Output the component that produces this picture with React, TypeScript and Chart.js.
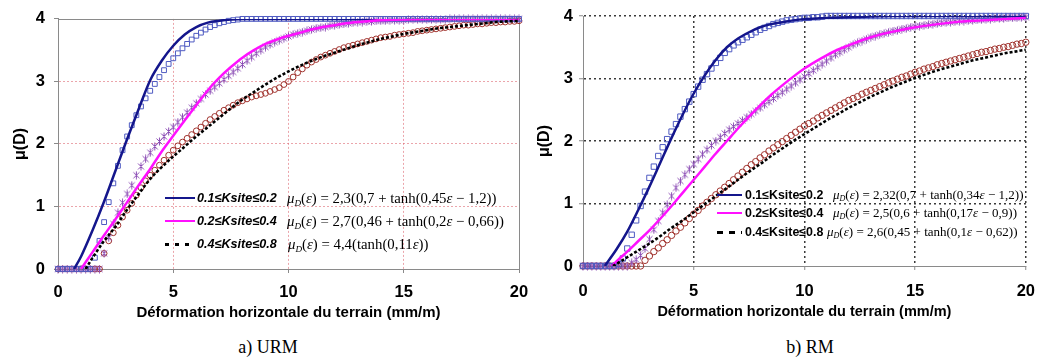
import React, { useEffect, useRef } from 'react';
import { Chart, registerables } from 'chart.js';

Chart.register(...registerables);

// ---------- DATA ----------
// common abscissa of the measured markers (mm/m)
const MARK_X = [
  0, 0.2, 0.4, 0.6, 0.8, 1, 1.2, 1.4, 1.6, 1.8,
  2, 2.2, 2.4, 2.6, 2.8, 3, 3.2, 3.4, 3.6, 3.8,
  4, 4.2, 4.4, 4.6, 4.8, 5, 5.2, 5.4, 5.6, 5.8,
  6, 6.2, 6.4, 6.6, 6.8, 7, 7.2, 7.4, 7.6, 7.8,
  8, 8.2, 8.4, 8.6, 8.8, 9, 9.2, 9.4, 9.6, 9.8,
  10, 10.2, 10.4, 10.6, 10.8, 11, 11.2, 11.4, 11.6, 11.8,
  12, 12.2, 12.4, 12.6, 12.8, 13, 13.2, 13.4, 13.6, 13.8,
  14, 14.2, 14.4, 14.6, 14.8, 15, 15.2, 15.4, 15.6, 15.8,
  16, 16.2, 16.4, 16.6, 16.8, 17, 17.2, 17.4, 17.6, 17.8,
  18, 18.2, 18.4, 18.6, 18.8, 19, 19.2, 19.4, 19.6, 19.8,
  20,
];

// a) URM — markers
const URM_SQ = [
  0, 0, 0, 0, 0, 0, 0, 0, 0.18, 0.45,
  0.75, 1.07, 1.37, 1.65, 1.9, 2.12, 2.3, 2.46, 2.6, 2.73,
  2.85, 2.96, 3.07, 3.18, 3.28, 3.37, 3.45, 3.53, 3.6, 3.67,
  3.73, 3.78, 3.83, 3.87, 3.9, 3.93, 3.95, 3.97, 3.98, 3.99,
  4, 4, 4, 4, 4, 4, 4, 4, 4, 4,
  4, 4, 4, 4, 4, 4, 4, 4, 4, 4,
  4, 4, 4, 4, 4, 4, 4, 4, 4, 4,
  4, 4, 4, 4, 4, 4, 4, 4, 4, 4,
  4, 4, 4, 4, 4, 4, 4, 4, 4, 4,
  4, 4, 4, 4, 4, 4, 4, 4, 4, 4,
  4,
];
const URM_AST = [
  0, 0, 0, 0, 0, 0, 0, 0, 0, 0,
  0.25, 0.5, 0.72, 0.9, 1.06, 1.2, 1.34, 1.5, 1.64, 1.76,
  1.86, 1.96, 2.04, 2.12, 2.2, 2.27, 2.35, 2.43, 2.5, 2.58,
  2.65, 2.72, 2.79, 2.85, 2.91, 2.97, 3.03, 3.09, 3.15, 3.21,
  3.27, 3.33, 3.39, 3.45, 3.5, 3.55, 3.59, 3.63, 3.66, 3.69,
  3.72, 3.75, 3.77, 3.79, 3.81, 3.83, 3.85, 3.86, 3.87, 3.89,
  3.9, 3.91, 3.92, 3.93, 3.94, 3.95, 3.95, 3.96, 3.96, 3.97,
  3.97, 3.97, 3.98, 3.98, 3.98, 3.98, 3.99, 3.99, 3.99, 3.99,
  3.99, 3.99, 3.99, 3.99, 3.99, 4, 4, 4, 4, 4,
  4, 4, 4, 4, 4, 4, 4, 4, 4, 4,
  4,
];
const URM_CIR = [
  0, 0, 0, 0, 0, 0, 0, 0, 0, 0,
  0.25, 0.45, 0.58, 0.7, 0.83, 0.94, 1.05, 1.18, 1.3, 1.41,
  1.5, 1.58, 1.66, 1.74, 1.82, 1.9, 1.97, 2.03, 2.09, 2.15,
  2.21, 2.27, 2.33, 2.39, 2.44, 2.49, 2.54, 2.58, 2.62, 2.66,
  2.69, 2.72, 2.75, 2.77, 2.79, 2.81, 2.84, 2.87, 2.9, 2.95,
  3, 3.07, 3.14, 3.2, 3.26, 3.31, 3.35, 3.39, 3.42, 3.45,
  3.48, 3.51, 3.54, 3.56, 3.58, 3.6, 3.62, 3.64, 3.66, 3.68,
  3.7, 3.71, 3.72, 3.74, 3.75, 3.76, 3.77, 3.78, 3.8, 3.81,
  3.82, 3.83, 3.84, 3.85, 3.86, 3.87, 3.88, 3.89, 3.9, 3.9,
  3.91, 3.92, 3.92, 3.93, 3.94, 3.94, 3.95, 3.95, 3.96, 3.96,
  3.97,
];

// a) URM — fitted curves
const URM_BLUE_X = [0.7, 1, 1.5, 2, 2.5, 3, 3.5, 4, 4.5, 5, 5.5, 6, 6.5, 7, 7.5, 8, 9, 10, 12, 14, 16, 18, 20];
const URM_BLUE_Y = [0, 0.2, 0.62, 1.08, 1.58, 2.08, 2.56, 3.02, 3.33, 3.57, 3.75, 3.87, 3.94, 3.97, 3.99, 4, 4, 4, 4, 4, 4, 4, 4];
const URM_MAG_X = [1, 1.5, 2, 2.5, 3, 3.5, 4, 4.5, 5, 5.5, 6, 6.5, 7, 7.5, 8, 8.5, 9, 9.5, 10, 10.5, 11, 11.5, 12, 12.5, 13, 14, 15, 16, 18, 20];
const URM_MAG_Y = [0, 0.27, 0.54, 0.8, 1.07, 1.34, 1.6, 1.88, 2.13, 2.38, 2.62, 2.86, 3.06, 3.23, 3.38, 3.5, 3.6, 3.67, 3.73, 3.78, 3.83, 3.87, 3.9, 3.93, 3.95, 3.98, 3.99, 4, 4, 4];
const URM_BLK_X = [1.2, 1.5, 2, 2.5, 3, 3.5, 4, 4.5, 5, 5.5, 6, 6.5, 7, 7.5, 8, 8.5, 9, 9.5, 10, 10.5, 11, 11.5, 12, 12.5, 13, 13.5, 14, 14.5, 15, 15.5, 16, 16.5, 17, 17.5, 18, 18.5, 19, 19.5, 20];
const URM_BLK_Y = [0, 0.18, 0.45, 0.68, 0.95, 1.2, 1.44, 1.63, 1.8, 1.96, 2.12, 2.27, 2.42, 2.57, 2.71, 2.83, 2.95, 3.06, 3.16, 3.25, 3.33, 3.4, 3.46, 3.52, 3.58, 3.63, 3.68, 3.72, 3.76, 3.79, 3.82, 3.85, 3.87, 3.89, 3.91, 3.93, 3.95, 3.96, 3.97];

// b) RM — markers
const RM_SQ = [
  0, 0, 0, 0, 0, 0, 0, 0, 0.03, 0.12,
  0.28, 0.5, 0.73, 0.96, 1.19, 1.41, 1.59, 1.76, 1.9, 2.03,
  2.15, 2.27, 2.39, 2.51, 2.63, 2.75, 2.87, 2.98, 3.07, 3.16,
  3.25, 3.33, 3.41, 3.47, 3.53, 3.58, 3.62, 3.66, 3.7, 3.74,
  3.78, 3.81, 3.84, 3.87, 3.89, 3.91, 3.93, 3.94, 3.95, 3.96,
  3.97, 3.97, 3.98, 3.98, 3.99, 4, 4, 4, 4, 4,
  4, 4, 4, 4, 4, 4, 4, 4, 4, 4,
  4, 4, 4, 4, 4, 4, 4, 4, 4, 4,
  4, 4, 4, 4, 4, 4, 4, 4, 4, 4,
  4, 4, 4, 4, 4, 4, 4, 4, 4, 4,
  4,
];
const RM_AST = [
  0, 0, 0, 0, 0, 0, 0, 0, 0, 0,
  0, 0.05, 0.1, 0.17, 0.28, 0.43, 0.58, 0.72, 0.85, 0.98,
  1.12, 1.25, 1.36, 1.46, 1.55, 1.63, 1.71, 1.79, 1.86, 1.93,
  2, 2.06, 2.12, 2.18, 2.23, 2.28, 2.33, 2.38, 2.43, 2.48,
  2.53, 2.58, 2.63, 2.68, 2.73, 2.78, 2.83, 2.88, 2.93, 2.98,
  3.03, 3.08, 3.13, 3.18, 3.23, 3.28, 3.33, 3.38, 3.42, 3.46,
  3.5, 3.54, 3.57, 3.6, 3.63, 3.66, 3.68, 3.7, 3.72, 3.74,
  3.76, 3.77, 3.79, 3.8, 3.82, 3.83, 3.84, 3.85, 3.86, 3.87,
  3.88, 3.89, 3.9, 3.9, 3.91, 3.92, 3.92, 3.93, 3.93, 3.94,
  3.94, 3.95, 3.95, 3.96, 3.96, 3.96, 3.97, 3.97, 3.97, 3.98,
  3.98,
];
const RM_CIR = [
  0, 0, 0, 0, 0, 0, 0, 0, 0, 0,
  0, 0, 0, 0, 0.09, 0.16, 0.23, 0.29, 0.36, 0.42,
  0.49, 0.56, 0.62, 0.69, 0.76, 0.83, 0.89, 0.96, 1.02, 1.08,
  1.14, 1.2, 1.26, 1.32, 1.38, 1.44, 1.5, 1.56, 1.62, 1.67,
  1.73, 1.78, 1.84, 1.89, 1.94, 1.99, 2.04, 2.09, 2.14, 2.19,
  2.24, 2.28, 2.32, 2.37, 2.41, 2.45, 2.49, 2.53, 2.57, 2.61,
  2.65, 2.68, 2.71, 2.75, 2.78, 2.81, 2.84, 2.87, 2.9, 2.93,
  2.96, 2.99, 3.02, 3.04, 3.07, 3.1, 3.12, 3.15, 3.17, 3.19,
  3.22, 3.24, 3.26, 3.28, 3.3, 3.32, 3.34, 3.36, 3.38, 3.4,
  3.42, 3.43, 3.45, 3.47, 3.48, 3.5, 3.51, 3.53, 3.55, 3.56,
  3.58,
];

// b) RM — fitted curves
const RM_BLUE_X = [0.98, 1.5, 2, 2.5, 3, 3.5, 4, 4.5, 5, 5.5, 6, 6.5, 7, 7.5, 8, 8.5, 9, 9.5, 10, 10.5, 11, 12, 13, 14, 16, 18, 20];
const RM_BLUE_Y = [0, 0.26, 0.55, 0.9, 1.27, 1.66, 2.05, 2.42, 2.76, 3.05, 3.3, 3.5, 3.64, 3.74, 3.82, 3.87, 3.9, 3.93, 3.95, 3.96, 3.97, 3.98, 3.99, 4, 4, 4, 4];
const RM_MAG_X = [1.3, 1.5, 2, 2.5, 3, 3.5, 4, 4.5, 5, 5.5, 6, 6.5, 7, 7.5, 8, 8.5, 9, 9.5, 10, 10.5, 11, 11.5, 12, 12.5, 13, 13.5, 14, 15, 16, 17, 18, 19, 20];
const RM_MAG_Y = [0, 0.07, 0.23, 0.4, 0.57, 0.76, 0.96, 1.17, 1.38, 1.59, 1.8, 2.0, 2.2, 2.39, 2.57, 2.74, 2.89, 3.03, 3.16, 3.27, 3.37, 3.46, 3.53, 3.6, 3.66, 3.71, 3.75, 3.82, 3.87, 3.91, 3.93, 3.95, 3.97];
const RM_BLK_X = [1.35, 1.5, 2, 2.5, 3, 3.5, 4, 4.5, 5, 5.5, 6, 6.5, 7, 7.5, 8, 8.5, 9, 9.5, 10, 10.5, 11, 11.5, 12, 12.5, 13, 13.5, 14, 14.5, 15, 15.5, 16, 16.5, 17, 17.5, 18, 18.5, 19, 19.5, 20];
const RM_BLK_Y = [0, 0.03, 0.14, 0.25, 0.36, 0.48, 0.61, 0.73, 0.86, 0.99, 1.12, 1.25, 1.38, 1.51, 1.63, 1.76, 1.88, 2.0, 2.11, 2.22, 2.33, 2.43, 2.53, 2.62, 2.71, 2.79, 2.87, 2.94, 3.01, 3.07, 3.13, 3.18, 3.23, 3.28, 3.32, 3.36, 3.4, 3.43, 3.46];

// texts
const X_TITLE = 'Déformation horizontale du terrain (mm/m)';
const Y_TITLE = 'μ(D)';
const LEGEND_LABELS = ['0.1≤Ksite≤0.2', '0.2≤Ksite≤0.4', '0.4≤Ksite≤0.8'];
const URM_FORMULAS = ['2,3(0,7 + tanh(0,45ε − 1,2))', '2,7(0,46 + tanh(0,2ε − 0,66))', '4,4(tanh(0,11ε))'];
const RM_FORMULAS = ['2,32(0,7 + tanh(0,34ε − 1,2))', '2,5(0,6 + tanh(0,17ε − 0,9))', '2,6(0,45 + tanh(0,1ε − 0,62))'];
const CAPTIONS = ['a) URM', 'b) RM'];

// ---------- STYLE ----------
const NAVY = '#14168c';
const MAGENTA = '#ff10ff';
const BLACK = '#000000';
const SQ_COLOR = '#4f5bc2';
const AST_COLOR = '#8c4db5';
const CIR_COLOR = '#a0332e';
const AXIS = '#8a8a8a';
const SANS = "'Liberation Sans', Arial, sans-serif";
const SERIF = "'Liberation Serif', 'Times New Roman', serif";

type Area = { left: number; top: number; right: number; bottom: number };
type Panel = {
  width: number; height: number; area: Area;
  gridColor: string; gridDash: number[]; gridWidth: number; frame: boolean;
  xLabelPad: number; yLabelPad: number; yTitlePad: number;
  xTitleSize: number; xTitlePadBottom: number; markR: number; circR: number;
};

const LEFT_PANEL: Panel = {
  width: 540, height: 322, area: { left: 58, top: 18, right: 519, bottom: 269 },
  gridColor: 'rgba(222,105,115,0.6)', gridDash: [2, 2], gridWidth: 1, frame: true,
  xLabelPad: 10, yLabelPad: 9, yTitlePad: 11.4, xTitleSize: 15, xTitlePadBottom: 0, markR: 3.4, circR: 2.9,
};
const RIGHT_PANEL: Panel = {
  width: 527, height: 322, area: { left: 63, top: 16, right: 512, bottom: 266 },
  gridColor: '#3a3a3a', gridDash: [2, 3], gridWidth: 1.5, frame: false,
  xLabelPad: 12, yLabelPad: 6, yTitlePad: 15.4, xTitleSize: 14.5, xTitlePadBottom: 1.3, markR: 3.8, circR: 3.2,
};

function makeStar(color: string) {
  const c = document.createElement('canvas');
  c.width = 9; c.height = 9;
  const g = c.getContext('2d')!;
  g.strokeStyle = color; g.lineWidth = 1;
  g.beginPath();
  g.moveTo(1.5, 1.5); g.lineTo(7.5, 7.5);
  g.moveTo(7.5, 1.5); g.lineTo(1.5, 7.5);
  g.moveTo(4.5, 0.5); g.lineTo(4.5, 8.5);
  g.stroke();
  return c;
}

const pts = (xs: number[], ys: number[]) => xs.map((x, i) => ({ x, y: ys[i] }));

function markSet(ys: number[], style: any, color: string, r: number) {
  return {
    data: pts(MARK_X, ys), showLine: false, pointStyle: style, pointRadius: r, pointHoverRadius: r,
    pointBorderColor: color, pointBackgroundColor: 'rgba(0,0,0,0)', pointBorderWidth: 1, order: 2, clip: false,
  };
}
function lineSet(xs: number[], ys: number[], color: string, dash: number[], w: number) {
  return {
    data: pts(xs, ys), showLine: true, borderColor: color, borderWidth: w, borderDash: dash,
    pointRadius: 0, pointHoverRadius: 0, cubicInterpolationMode: 'monotone', fill: false, order: 1,
  };
}

const framePlugin = {
  id: 'frame',
  beforeDatasetsDraw(chart: any) {
    const { ctx, chartArea: a } = chart;
    ctx.save();
    ctx.strokeStyle = AXIS; ctx.lineWidth = 1;
    ctx.beginPath();
    ctx.moveTo(a.left, Math.round(a.top) + 0.5);
    ctx.lineTo(Math.round(a.right) + 0.5, Math.round(a.top) + 0.5);
    ctx.lineTo(Math.round(a.right) + 0.5, a.bottom);
    ctx.stroke();
    ctx.restore();
  },
};

function makeChart(canvas: HTMLCanvasElement, p: Panel, datasets: any[]) {
  const tickFont = { family: SANS, size: 16.5, weight: 'bold' as const };
  const gridCol = (max: number) => (c: any) => {
    const v = c.tick ? c.tick.value : null;
    if (v === 0) return 'rgba(0,0,0,0)';
    if (p.frame && v === max) return 'rgba(0,0,0,0)';
    return p.gridColor;
  };
  return new Chart(canvas, {
    type: 'scatter',
    data: { datasets },
    options: {
      animation: false,
      responsive: false,
      events: [],
      layout: { padding: { left: 0, top: p.area.top, right: p.width - p.area.right, bottom: 0 } },
      plugins: { legend: { display: false }, tooltip: { enabled: false } },
      scales: {
        x: {
          type: 'linear', min: 0, max: 20,
          ticks: { stepSize: 5, padding: p.xLabelPad, font: tickFont, color: '#000', maxRotation: 0, autoSkip: false },
          grid: { color: gridCol(20), lineWidth: p.gridWidth, tickColor: AXIS, tickLength: 4, tickWidth: 1, tickBorderDash: [] },
          border: { display: true, color: AXIS, width: 1, dash: p.gridDash },
          title: {
            display: true, text: X_TITLE, color: '#000',
            font: { family: SANS, size: p.xTitleSize, weight: 'bold' },
            padding: { top: 0, bottom: p.xTitlePadBottom },
          },
          afterFit: (s: any) => { s.height = p.height - p.area.bottom; },
        },
        y: {
          type: 'linear', min: 0, max: 4,
          ticks: { stepSize: 1, padding: p.yLabelPad, font: tickFont, color: '#000' },
          grid: { color: gridCol(4), lineWidth: p.gridWidth, tickColor: AXIS, tickLength: 4, tickWidth: 1, tickBorderDash: [] },
          border: { display: true, color: AXIS, width: 1, dash: p.gridDash },
          title: {
            display: true, text: Y_TITLE, color: '#000',
            font: { family: SANS, size: 16, weight: 'bold' },
            padding: { top: p.yTitlePad, bottom: 0 },
          },
          afterFit: (s: any) => { s.width = p.area.left; },
        },
      },
    } as any,
    plugins: p.frame ? [framePlugin] : [],
  });
}

function Formula({ rhs }: { rhs: string }) {
  const parts = rhs.split('ε');
  return (
    <>
      <i>μ</i>
      <sub style={{ fontSize: '0.62em', fontStyle: 'italic', verticalAlign: '-0.3em', lineHeight: 0 }}>D</sub>
      (<i>ε</i>) = {parts.map((s, i) => (
        <React.Fragment key={i}>{s}{i < parts.length - 1 ? <i>ε</i> : null}</React.Fragment>
      ))}
    </>
  );
}

type LegendSpec = {
  rows: number[]; sampleLeft: number; sampleWidth: number; labelLeft: number;
  formulaLeft: number[]; labelItalic: boolean; labelSize: number; formulaSize: number;
  formulas: string[]; dash: string;
};

const LEFT_LEGEND: LegendSpec = {
  rows: [198, 221, 244], sampleLeft: 165, sampleWidth: 30, labelLeft: 197,
  formulaLeft: [287, 287, 288], labelItalic: true, labelSize: 12.6, formulaSize: 14.8,
  formulas: URM_FORMULAS, dash: 'repeating-linear-gradient(to right, #000 0 4px, rgba(0,0,0,0) 4px 10px)',
};
const RIGHT_LEGEND: LegendSpec = {
  rows: [195, 213, 232], sampleLeft: 717, sampleWidth: 25, labelLeft: 745,
  formulaLeft: [833, 833, 827], labelItalic: false, labelSize: 12.4, formulaSize: 13,
  formulas: RM_FORMULAS, dash: 'repeating-linear-gradient(to right, #000 0 6px, rgba(0,0,0,0) 6px 12px)',
};

function Legend({ spec }: { spec: LegendSpec }) {
  const colors = [NAVY, MAGENTA, BLACK];
  return (
    <>
      {spec.rows.map((cy, i) => (
        <React.Fragment key={i}>
          <div style={{
            position: 'absolute', left: spec.sampleLeft, top: cy - 1.5, width: spec.sampleWidth,
            height: i === 2 ? 3 : 2.5,
            background: i === 2 ? spec.dash : colors[i],
          }} />
          <div style={{
            position: 'absolute', left: spec.labelLeft, top: cy - 8, height: 16, lineHeight: '16px',
            fontFamily: SANS, fontWeight: 'bold', fontStyle: spec.labelItalic ? 'italic' : 'normal',
            fontSize: spec.labelSize, color: '#000', whiteSpace: 'nowrap',
          }}>{LEGEND_LABELS[i]}</div>
          <div style={{
            position: 'absolute', left: spec.formulaLeft[i], top: cy - 10, height: 20, lineHeight: '20px',
            fontFamily: SERIF, fontSize: spec.formulaSize, color: '#000', whiteSpace: 'nowrap',
          }}><Formula rhs={spec.formulas[i]} /></div>
        </React.Fragment>
      ))}
    </>
  );
}

export default function App() {
  const leftRef = useRef<HTMLCanvasElement>(null);
  const rightRef = useRef<HTMLCanvasElement>(null);

  useEffect(() => {
    const star = makeStar(AST_COLOR);
    const urm = [
      markSet(URM_SQ, 'rect', SQ_COLOR, LEFT_PANEL.markR),
      markSet(URM_AST, star, AST_COLOR, 4),
      markSet(URM_CIR, 'circle', CIR_COLOR, LEFT_PANEL.circR),
      lineSet(URM_BLK_X, URM_BLK_Y, BLACK, [3, 2], 2.6),
      lineSet(URM_MAG_X, URM_MAG_Y, MAGENTA, [], 2.5),
      lineSet(URM_BLUE_X, URM_BLUE_Y, NAVY, [], 2.5),
    ];
    const rm = [
      markSet(RM_SQ, 'rect', SQ_COLOR, RIGHT_PANEL.markR),
      markSet(RM_AST, star, AST_COLOR, 4),
      markSet(RM_CIR, 'circle', CIR_COLOR, RIGHT_PANEL.circR),
      lineSet(RM_BLK_X, RM_BLK_Y, BLACK, [3, 2], 2.6),
      lineSet(RM_MAG_X, RM_MAG_Y, MAGENTA, [], 2.5),
      lineSet(RM_BLUE_X, RM_BLUE_Y, NAVY, [], 2.5),
    ];
    const charts = [
      makeChart(leftRef.current!, LEFT_PANEL, urm),
      makeChart(rightRef.current!, RIGHT_PANEL, rm),
    ];
    return () => charts.forEach((c) => c.destroy());
  }, []);

  return (
    <div style={{ position: 'absolute', left: 0, top: 0, width: 1047, height: 360, background: '#fff', overflow: 'hidden' }}>
      <canvas ref={leftRef} width={LEFT_PANEL.width} height={LEFT_PANEL.height}
        style={{ position: 'absolute', left: 0, top: 0, width: LEFT_PANEL.width, height: LEFT_PANEL.height }} />
      <canvas ref={rightRef} width={RIGHT_PANEL.width} height={RIGHT_PANEL.height}
        style={{ position: 'absolute', left: 520, top: 0, width: RIGHT_PANEL.width, height: RIGHT_PANEL.height }} />
      <Legend spec={LEFT_LEGEND} />
      <Legend spec={RIGHT_LEGEND} />
      <div style={{ position: 'absolute', left: 168, top: 336, width: 200, textAlign: 'center', fontFamily: SERIF, fontSize: 18, lineHeight: '22px', color: '#000' }}>{CAPTIONS[0]}</div>
      <div style={{ position: 'absolute', left: 710, top: 336, width: 200, textAlign: 'center', fontFamily: SERIF, fontSize: 18, lineHeight: '22px', color: '#000' }}>{CAPTIONS[1]}</div>
    </div>
  );
}
